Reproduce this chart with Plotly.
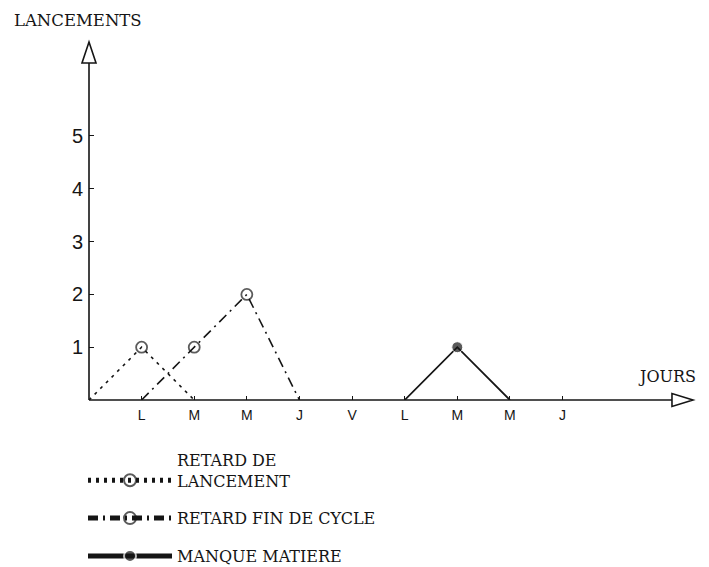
import plotly.graph_objects as go

# jours (axe X) et valeurs
jours = ["L", "M", "M", "J", "V", "L", "M", "M", "J"]
pos_jours = [1, 2, 3, 4, 5, 6, 7, 8, 9]
graduations_y = [1, 2, 3, 4, 5]

lancement_x = [0, 1, 2]
lancement_y = [0, 1, 0]
fin_cycle_x = [1, 2, 3, 4]
fin_cycle_y = [0, 1, 2, 0]
matiere_x = [6, 7, 8]
matiere_y = [0, 1, 0]

noir = "#151515"
typo = "DejaVu Serif"

fig = go.Figure()

fig.add_trace(go.Scatter(x=lancement_x, y=lancement_y, mode="lines+markers",
                         name="RETARD DE<br>LANCEMENT", legendgroup="a",
                         line=dict(color=noir, width=1.6, dash="3px,5px"),
                         marker=dict(symbol="circle-open", size=[0, 11, 0],
                                     color=noir, line=dict(width=1.8)),
                         cliponaxis=False))

fig.add_trace(go.Scatter(x=fin_cycle_x, y=fin_cycle_y, mode="lines+markers",
                         name="RETARD FIN DE CYCLE", legendgroup="b",
                         line=dict(color=noir, width=1.6, dash="10px,5px,2px,5px"),
                         marker=dict(symbol="circle-open", size=[0, 11, 11, 0],
                                     color=noir, line=dict(width=1.8)),
                         cliponaxis=False))

fig.add_trace(go.Scatter(x=matiere_x, y=matiere_y, mode="lines+markers",
                         name="MANQUE MATIERE", legendgroup="c",
                         line=dict(color=noir, width=1.8),
                         marker=dict(symbol="circle", size=[0, 11, 0], color=noir),
                         cliponaxis=False))

############ axes avec fleches (triangles ouverts, fond blanc)
fig.add_shape(type="line", xref="x domain", yref="y domain", x0=0, y0=0, x1=0, y1=0.97,
              line=dict(color=noir, width=1.6))
fig.add_shape(type="line", xref="x domain", yref="y domain", x0=0, y0=0, x1=0.98, y1=0,
              line=dict(color=noir, width=1.6))
fig.add_shape(type="path", xref="x domain", yref="y domain",
              path="M -0.0116,0.9413 L 0.0116,0.9413 L 0,1 Z",
              fillcolor="white", line=dict(color=noir, width=1.6))
fig.add_shape(type="path", xref="x domain", yref="y domain",
              path="M 0.9652,-0.0182 L 0.9652,0.0182 L 1,0 Z",
              fillcolor="white", line=dict(color=noir, width=1.6))

fig.add_annotation(text="LANCEMENTS", xref="paper", yref="paper", x=0.0058, y=1.0394,
                   xanchor="left", yanchor="middle", showarrow=False,
                   font=dict(family=typo, size=16.5, color=noir))
fig.add_annotation(text="JOURS", xref="x domain", yref="y", x=0.905, y=0.45,
                   xanchor="left", yanchor="middle", showarrow=False,
                   font=dict(family=typo, size=16, color=noir))

# la page ajoute 8px de marge: figure decalee en consequence
fig.update_layout(
    width=701, height=567,
    margin=dict(l=0, r=16, t=34, b=0),
    paper_bgcolor="white", plot_bgcolor="white",
    showlegend=True,
    legend=dict(x=0.1095, y=0.2484, xanchor="left", yanchor="top",
                valign="bottom", itemwidth=84, itemsizing="constant",
                traceorder="grouped", tracegroupgap=14, bgcolor="rgba(0,0,0,0)",
                font=dict(family=typo, size=16, color=noir)),
    xaxis=dict(domain=[0.11825, 1], range=[0, 11.48], showgrid=False, zeroline=False,
               showline=False, tickvals=pos_jours, ticktext=jours, ticks="inside",
               ticklen=4, tickcolor=noir, ticklabelstandoff=5,
               tickfont=dict(family="Liberation Sans", size=14, color=noir)),
    yaxis=dict(domain=[0.3283, 1], range=[0, 6.78], showgrid=False, zeroline=False,
               showline=False, tickvals=graduations_y, ticks="inside", ticklen=5,
               tickcolor=noir, ticklabelstandoff=5,
               tickfont=dict(family="Liberation Sans", size=20, color=noir)),
)

fig.write_html("out.html")
